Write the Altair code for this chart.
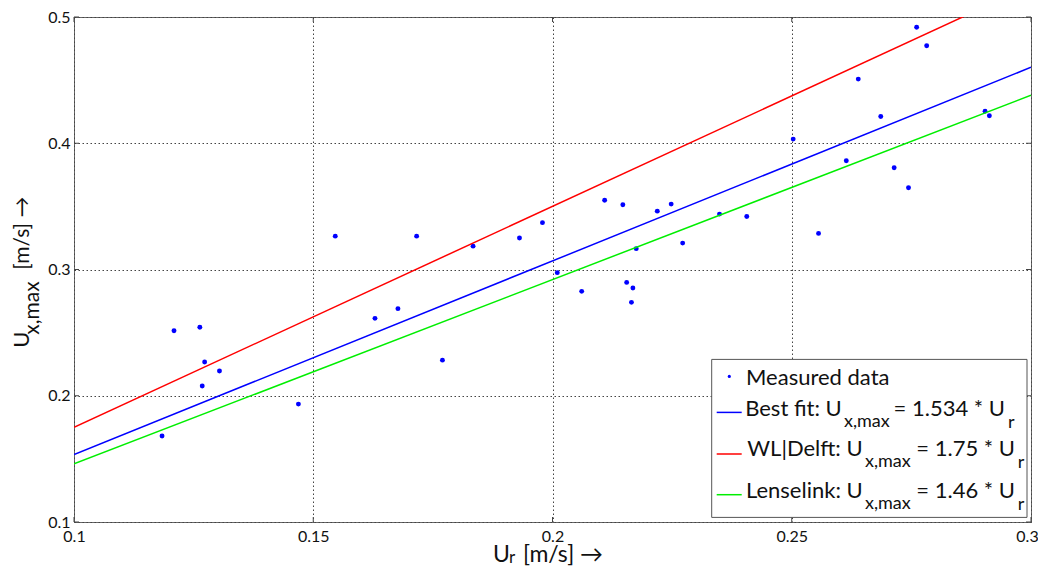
import altair as alt
import pandas as pd

# ---- data ----
ur = [0.1184, 0.1209, 0.1263, 0.1268, 0.1273, 0.1304, 0.1469, 0.1546, 0.1629, 0.1677,
      0.1716, 0.1770, 0.1834, 0.1931, 0.1979, 0.2010, 0.2061, 0.2109, 0.2147, 0.2155,
      0.2165, 0.2168, 0.2175, 0.2219, 0.2248, 0.2272, 0.2349, 0.2406, 0.2503, 0.2556,
      0.2614, 0.2639, 0.2686, 0.2714, 0.2744, 0.2761, 0.2782, 0.2904, 0.2913]
uxmax = [0.1681, 0.2515, 0.2542, 0.2077, 0.2267, 0.2196, 0.1934, 0.3264, 0.2613, 0.2690,
         0.3264, 0.2282, 0.3185, 0.3249, 0.3371, 0.2975, 0.2827, 0.3549, 0.3513, 0.2898,
         0.2740, 0.2853, 0.3165, 0.3462, 0.3518, 0.3209, 0.3439, 0.3420, 0.4033, 0.3286,
         0.3861, 0.4508, 0.4212, 0.3806, 0.3648, 0.4919, 0.4772, 0.4254, 0.4218]

line_x = [0.1, 0.3]
best_fit_y = [0.1534, 0.4602]
wl_delft_y = [0.175, 0.525]
lenselink_y = [0.146, 0.438]

x_ticks = [0.1, 0.15, 0.2, 0.25, 0.3]
y_ticks = [0.1, 0.2, 0.3, 0.4, 0.5]

legend_names = ["Best fit: U", "WL|Delft: U", "Lenselink: U"]
legend_eqs = ["= 1.534 * U", "= 1.75 * U", "= 1.46 * U"]
line_colors = ["#0000ff", "#ff0000", "#00ee00"]

FONT = "Lato"
W, H = 957, 505

pts = pd.DataFrame({"ur": ur, "ux": uxmax})
xs = alt.Scale(domain=[0.1, 0.3], nice=False, zero=False)
ys = alt.Scale(domain=[0.1, 0.5], nice=False, zero=False)

xaxis = alt.Axis(
    values=x_ticks, format="~g", title="", labelPadding=6, labelFlush=False,
    labelOffset={"condition": {"test": "datum.value >= 0.29", "value": -4}, "value": 0},
)
yaxis = alt.Axis(values=y_ticks, format="~g", title="", labelPadding=4, labelFlush=False)

points = alt.Chart(pts).mark_circle(size=24, color="#0000ff", opacity=1).encode(
    x=alt.X("ur:Q", scale=xs, axis=xaxis),
    y=alt.Y("ux:Q", scale=ys, axis=yaxis),
)

layers = [points]
for ys_vals, col in zip([best_fit_y, wl_delft_y, lenselink_y], line_colors):
    df = pd.DataFrame({"ur": line_x, "ux": ys_vals})
    layers.append(
        alt.Chart(df).mark_line(color=col, strokeWidth=1.5, clip=True).encode(
            x=alt.X("ur:Q", scale=xs), y=alt.Y("ux:Q", scale=ys)
        )
    )

# inward tick marks on all four sides
xt = pd.DataFrame({"ur": x_ticks})
yt = pd.DataFrame({"ux": y_ticks})
for y0, y1 in [(H, H - 5), (0, 5)]:
    layers.append(alt.Chart(xt).mark_rule(color="#444444", strokeWidth=1).encode(
        x=alt.X("ur:Q", scale=xs), y=alt.value(y0), y2=alt.value(y1)))
for x0, x1 in [(0, 5), (W, W - 5)]:
    layers.append(alt.Chart(yt).mark_rule(color="#444444", strokeWidth=1).encode(
        y=alt.Y("ux:Q", scale=ys), x=alt.value(x0), x2=alt.value(x1)))

one = pd.DataFrame({"a": [0]})


def txt(s, x, y, size, align="left", angle=0):
    kw = dict(text=s, fontSize=size, font=FONT, align=align, baseline="alphabetic",
              color="#111111")
    if angle:
        kw["angle"] = angle
    return alt.Chart(one).mark_text(**kw).encode(x=alt.value(x), y=alt.value(y))


# legend box
layers.append(
    alt.Chart(one).mark_rect(fill="white", stroke="#555555", strokeWidth=1).encode(
        x=alt.value(637.7), x2=alt.value(953), y=alt.value(342.4), y2=alt.value(500.4)
    )
)
layers.append(
    alt.Chart(one).mark_circle(size=10, color="#0000ff", opacity=1).encode(
        x=alt.value(655.3), y=alt.value(359.4)
    )
)
layers.append(txt("Measured data", 672, 367.7, 22))

row_base = [399.4, 439.4, 481.0]
row_line = [395.4, 437.0, 477.7]
name_end = [767.7, 788.7, 788.7]
sub_start = [770, 791, 791]
eq_end = [931, 941, 941]
r_start = [934, 943.7, 943.7]
for i in range(3):
    layers.append(
        alt.Chart(one).mark_rule(color=line_colors[i], strokeWidth=1.5).encode(
            x=alt.value(642.7), x2=alt.value(667.7), y=alt.value(row_line[i])
        )
    )
    layers.append(txt(legend_names[i], name_end[i], row_base[i], 22, align="right"))
    layers.append(txt("x,max", sub_start[i], row_base[i] + 10.5, 18))
    layers.append(txt(legend_eqs[i], eq_end[i], row_base[i], 22, align="right"))
    layers.append(txt("r", r_start[i], row_base[i] + 11.5, 18))

# axis titles
layers.append(txt("U", 419, 544.5, 23))
layers.append(txt("r", 435, 546, 17))
layers.append(txt("[m/s] \u2192", 449, 544.5, 23))

layers.append(txt("U", -45.5, 330.7, 22, angle=270))
layers.append(txt("x,max", -35.5, 317.7, 21, angle=270))
layers.append(txt("[m/s] \u2192", -45.5, 252.7, 21, angle=270))

chart = alt.layer(*layers).properties(
    width=W, height=H,
    autosize=alt.AutoSizeParams(type="none"),
    padding={"left": 66, "top": 9, "right": 7, "bottom": 44},
).configure_view(stroke="#666666", strokeWidth=1).configure_axis(
    grid=True, gridColor="#444444", gridDash=[1.5, 2.5], gridWidth=1, gridOpacity=1,
    domain=False, ticks=False,
    labelFont=FONT, labelFontSize=16, labelColor="#111111",
)

chart.save("out.html", embed_options={"renderer": "svg", "actions": False})
